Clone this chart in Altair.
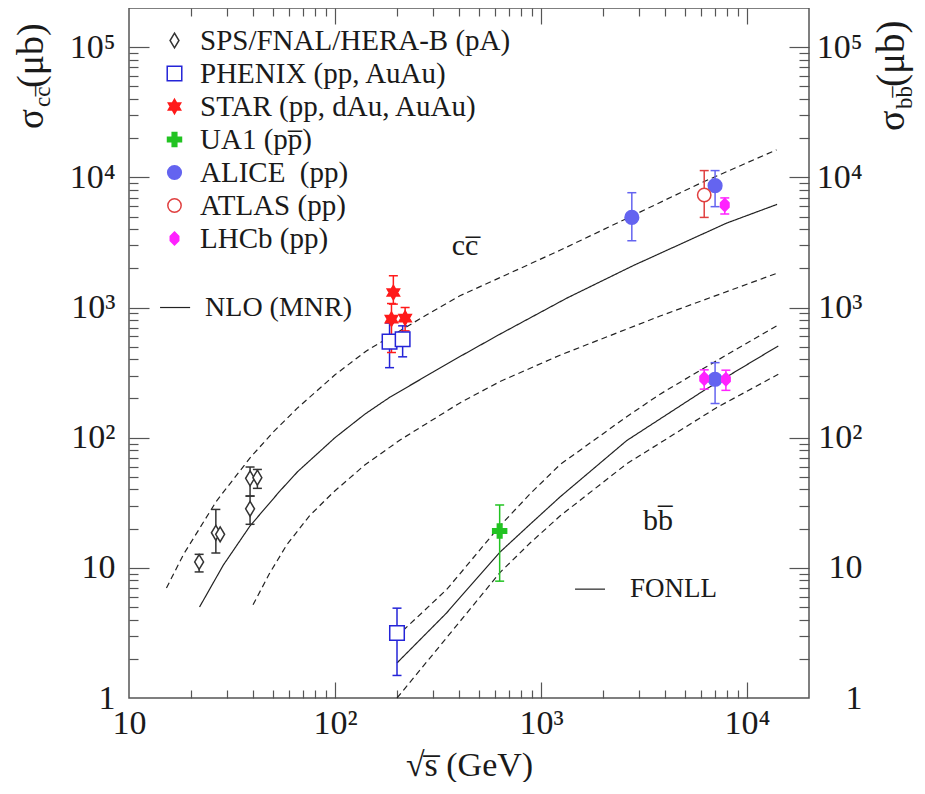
import altair as alt
import pandas as pd

FONT = "Liberation Serif"
FRAME = "#555555"
TXT = "#1a1a1a"

# ---------------- data: measurements ----------------
series_names = ["SPS/FNAL/HERA-B (pA)", "PHENIX (pp, AuAu)", "STAR (pp, dAu, AuAu)",
                "UA1 (pp\u0305)", "ALICE\u00a0\u00a0(pp)", "ATLAS (pp)", "LHCb (pp)"]
series_stroke = ["#333333", "#2424d8", "#ff1a1a", "#22c322", "#6464f0", "#e04040", "#ff22ff"]
series_fill = ["white", "white", "#ff1a1a", "#22c322", "#6464f0", "white", "#ff22ff"]
series_shape = [
    "M0,-1L0.6,0L0,1L-0.6,0Z",
    "square",
    "M0,-1L0.289,-0.5L0.866,-0.5L0.577,0L0.866,0.5L0.289,0.5L0,1L-0.289,0.5L-0.866,0.5L-0.577,0L-0.866,-0.5L-0.289,-0.5Z",
    "M-0.33,-1H0.33V-0.33H1V0.33H0.33V1H-0.33V0.33H-1V-0.33H-0.33Z",
    "circle",
    "circle",
    "M0,-1L0.65,-0.35L0.65,0.35L0,1L-0.65,0.35L-0.65,-0.35Z",
]
series_size = [220, 170, 260, 260, 140, 180, 200]

sps_x = [21.9, 26.4, 27.7, 38.7, 38.7, 42.0]
sps_y = [11.1, 18.6, 18.1, 48.7, 28.4, 49.3]
sps_lo = [9.3, 13.0, None, 35.6, 21.6, 40.8]
sps_hi = [12.7, 28.1, None, 59.5, 35.6, 57.0]

phenix_x = [184, 213, 200]
phenix_y = [547, 571, 3.16]
phenix_lo = [345, 418, 1.49]
phenix_hi = [760, 723, 4.9]

star_x = [192, 188, 219]
star_y = [1304, 814, 829]
star_lo = [1062, 451, 661]
star_hi = [1754, 1073, 1000]

ua1_x = [630]
ua1_y = [19.2]
ua1_lo = [7.9]
ua1_hi = [30.4]

alice_x = [2760, 7000, 7000]
alice_y = [4923, 8630, 281]
alice_lo = [3258, 5953, 183]
alice_hi = [7621, 11270, 377]

atlas_x = [6200]
atlas_y = [7320]
atlas_lo = [4923]
atlas_hi = [11270]

lhcb_x = [7800, 6200, 7900]
lhcb_y = [6134, 284, 281]
lhcb_lo = [5229, 236, 231]
lhcb_hi = [6950, 332, 330]

# ---------------- data: theory curves ----------------
nlo_c_x = [22, 28.7, 38.7, 54, 66, 100, 140, 185, 300, 404, 632, 1334, 2806, 7960, 14000]
nlo_c_y = [5.0, 10.5, 21, 38.9, 55, 100, 152, 205, 320, 420, 624, 1180, 2100, 4450, 6200]
nlo_hi_x = [15.2, 18.4, 26.6, 38.7, 50, 66, 100, 142, 279, 404, 1236, 2800, 5920, 13900]
nlo_hi_y = [7.0, 12.7, 32.6, 70, 110, 170, 304, 464, 880, 1230, 2750, 5100, 9000, 16250]
nlo_lo_x = [40, 48, 58.3, 75, 98, 140, 207, 404, 632, 1236, 3785, 13900]
nlo_lo_y = [5.2, 9.0, 15, 25, 38, 62, 96, 185, 270, 430, 860, 1827]

fonll_c_x = [200, 348, 404, 632, 885, 1236, 2607, 6140, 14190]
fonll_c_y = [1.86, 4.5, 5.9, 13.2, 21.6, 35, 95, 229, 507]
fonll_hi_x = [214, 348, 404, 632, 885, 1236, 2607, 3785, 6140, 14190]
fonll_hi_y = [3.3, 6.8, 9.0, 21, 37, 62, 145, 216, 340, 736]
fonll_lo_x = [200, 348, 632, 885, 1236, 2607, 7110, 14190]
fonll_lo_y = [1.0, 2.9, 9.2, 15.5, 25, 63, 170, 307]

# ---------------- axes ----------------
x_domain = [10, 20000]
y_domain = [1, 200000]
x_label_vals = [10, 100, 1000, 10000]
x_label_text = ["10", "10\u00b2", "10\u00b3", "10\u2074"]
y_label_vals = [1, 10, 100, 1000, 10000, 100000]
y_label_text = ["1", "10", "10\u00b2", "10\u00b3", "10\u2074", "10\u2075"]
x_tick_vals = [m * 10 ** e for e in range(1, 5) for m in range(1, 10) if 10 < m * 10 ** e < 20000]
y_tick_vals = [m * 10 ** e for e in range(0, 6) for m in range(1, 10) if 1 < m * 10 ** e < 200000]

# ---------------- tables ----------------
rows = []
groups = [
    (sps_x, sps_y, sps_lo, sps_hi), (phenix_x, phenix_y, phenix_lo, phenix_hi),
    (star_x, star_y, star_lo, star_hi), (ua1_x, ua1_y, ua1_lo, ua1_hi),
    (alice_x, alice_y, alice_lo, alice_hi), (atlas_x, atlas_y, atlas_lo, atlas_hi),
    (lhcb_x, lhcb_y, lhcb_lo, lhcb_hi),
]
for name, (gx, gy, glo, ghi) in zip(series_names, groups):
    for a, b, c, d in zip(gx, gy, glo, ghi):
        rows.append({"series": name, "x": a, "y": b, "lo": c, "hi": d})
pts = pd.DataFrame(rows)

crow = []
for cname, style, cx, cy in [
    ("nlo_c", "solid", nlo_c_x, nlo_c_y), ("nlo_hi", "dashed", nlo_hi_x, nlo_hi_y),
    ("nlo_lo", "dashed", nlo_lo_x, nlo_lo_y), ("fonll_c", "solid", fonll_c_x, fonll_c_y),
    ("fonll_hi", "dashed", fonll_hi_x, fonll_hi_y), ("fonll_lo", "dashed", fonll_lo_x, fonll_lo_y),
]:
    for a, b in zip(cx, cy):
        crow.append({"curve": cname, "style": style, "x": a, "y": b})
curves_df = pd.DataFrame(crow)

xs = alt.Scale(type="log", domain=x_domain, nice=False)
ys = alt.Scale(type="log", domain=y_domain, nice=False)

MAJOR = "abs(log(datum.value)/LN10 - round(log(datum.value)/LN10)) < 0.001"


def label_expr(vals, labs):
    parts = [f"abs(datum.value - {v}) < {v * 0.01} ? '{t}'" for v, t in zip(vals, labs)]
    return " : ".join(parts) + " : ''"


def tick_axis(orient, offset, values, major, minor):
    return alt.Axis(orient=orient, offset=offset, values=values, labels=False, domain=False,
                    grid=False, title=None, ticks=True, tickColor=FRAME, tickWidth=1.2,
                    tickSize={"condition": {"test": MAJOR, "value": major}, "value": minor})


def label_axis(orient, values, labs, pad, align=None, title=None):
    kw = dict(orient=orient, values=values, labelExpr=label_expr(values, labs), ticks=False,
              tickSize=0, domain=False, grid=False, labelFont=FONT, labelFontSize=34,
              labelColor=TXT, labelPadding=pad, labelOverlap=False, labelFlush=False,
              title=title)
    if align:
        kw["labelAlign"] = align
    if title:
        kw.update(titleFont=FONT, titleFontSize=34, titleFontWeight="normal",
                  titleColor=TXT, titlePadding=8)
    return alt.Axis(**kw)


dom = series_names
stroke_scale = alt.Scale(domain=dom, range=series_stroke)
fill_scale = alt.Scale(domain=dom, range=series_fill)
shape_scale = alt.Scale(domain=dom, range=series_shape)
size_scale = alt.Scale(domain=dom, range=series_size)

leg = alt.Legend(title=None, orient="none", legendX=31, legendY=18, padding=0,
                 labelFont=FONT, labelFontSize=29, labelColor=TXT, labelLimit=500,
                 symbolStrokeWidth=1.5, symbolOpacity=1, rowPadding=3, labelOffset=11)

curves = alt.Chart(curves_df).mark_line(stroke="#222222", strokeWidth=1.2, clip=True).encode(
    x=alt.X("x:Q", scale=xs, axis=label_axis("bottom", x_label_vals, x_label_text, 8,
                                              title="\u221as\u0305 (GeV)")),
    y=alt.Y("y:Q", scale=ys, axis=label_axis("left", y_label_vals, y_label_text, 14)),
    detail="curve:N",
    strokeDash=alt.StrokeDash("style:N", scale=alt.Scale(domain=["solid", "dashed"],
                                                         range=[[1, 0], [6, 4]]), legend=None),
)

err = alt.Chart(pts).mark_rule(strokeWidth=1.5).encode(
    x=alt.X("x:Q", scale=xs, axis=tick_axis("top", -690, x_tick_vals, 16, 8)),
    y=alt.Y("lo:Q", scale=ys, axis=tick_axis("right", -680, y_tick_vals, 20, 9)),
    y2="hi:Q",
    stroke=alt.Stroke("series:N", scale=stroke_scale, legend=leg),
)

caps = alt.Chart(pts).transform_fold(["lo", "hi"], as_=["end", "yv"]).mark_point(
    shape="M-1,0L1,0", filled=False, size=81, strokeWidth=1.5, opacity=1).encode(
    x=alt.X("x:Q", scale=xs, axis=tick_axis("bottom", -690, x_tick_vals, 16, 8)),
    y=alt.Y("yv:Q", scale=ys, axis=tick_axis("left", -680, y_tick_vals, 20, 10)),
    stroke=alt.Stroke("series:N", scale=stroke_scale, legend=leg),
)

points = alt.Chart(pts).mark_point(filled=True, opacity=1, strokeWidth=1.5).encode(
    x=alt.X("x:Q", scale=xs, axis=None),
    y=alt.Y("y:Q", scale=ys, axis=label_axis("right", y_label_vals, y_label_text, 53, align="right")),
    shape=alt.Shape("series:N", scale=shape_scale, legend=leg),
    stroke=alt.Stroke("series:N", scale=stroke_scale, legend=leg),
    fill=alt.Fill("series:N", scale=fill_scale, legend=leg),
    size=alt.Size("series:N", scale=size_scale, legend=leg),
)


def note(text, xv, yv, fs, align="left"):
    return alt.Chart(pd.DataFrame({"x": [xv], "y": [yv]})).mark_text(
        text=text, font=FONT, fontSize=fs, color=TXT, align=align, baseline="middle").encode(
        x=alt.X("x:Q", scale=xs, axis=None), y=alt.Y("y:Q", scale=ys, axis=None))


def key_line(x1, x2, yv):
    return alt.Chart(pd.DataFrame({"x": [x1], "x2": [x2], "y": [yv]})).mark_rule(
        color="#222222", strokeWidth=1.2).encode(
        x=alt.X("x:Q", scale=xs, axis=None), x2="x2:Q", y=alt.Y("y:Q", scale=ys, axis=None))


one = pd.DataFrame({"a": [0]})


def vtitle(text, fs, px, py):
    return alt.Chart(one).mark_text(text=text, font=FONT, fontSize=fs, color=TXT, angle=270,
                                    align="left", baseline="alphabetic").encode(
        x=alt.value(px), y=alt.value(py))


layers = [
    curves, err, caps, points,
    note("cc\u0305", 428, 2985, 30, "center"),
    note("bb\u0305", 3700, 22.9, 30, "center"),
    key_line(14.15, 19.8, 1000), note("NLO (MNR)", 23.4, 1000, 28),
    key_line(1463, 2046, 6.86), note("FONLL", 2704, 6.86, 27),
    vtitle("\u03c3", 37, -86, 121), vtitle("cc\u0305", 23, -79, 99), vtitle("(\u03bcb)", 38, -86, 80),
    vtitle("\u03c3", 38, 775, 123), vtitle("bb\u0305", 23, 783, 101), vtitle("(\u03bcb)", 39, 775, 79),
]

chart = alt.layer(*layers).resolve_axis(x="independent", y="independent").properties(
    width=680, height=690,
    autosize=alt.AutoSizeParams(type="none"),
    padding={"left": 121, "top": 0, "right": 108, "bottom": 84},
).configure_view(stroke=FRAME, strokeWidth=1.5)

chart.save("out.html", embed_options={"renderer": "svg", "actions": False})
